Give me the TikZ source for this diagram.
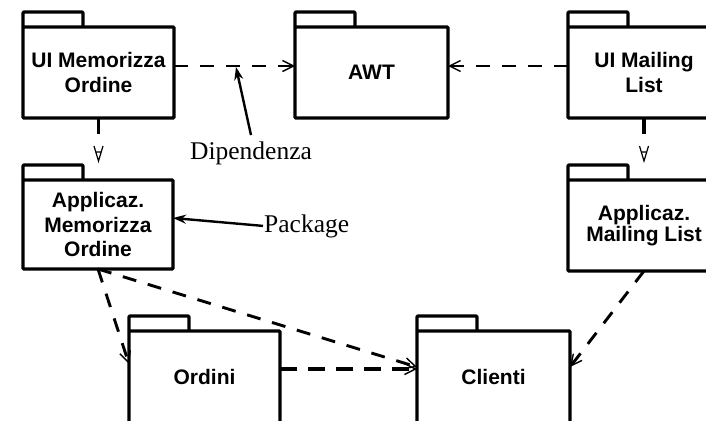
\documentclass[tikz,border=0pt]{standalone}
\usepackage{fontspec}
\setmainfont{Liberation Serif}
\setsansfont{Liberation Sans}
\usetikzlibrary{arrows.meta,calc}

\tikzset{
  pkg/.style={draw, line width=3.2pt, rounded corners=0.8pt, outer sep=0pt,
    inner sep=0pt, minimum width=#1, minimum height=91pt, align=center,
    font=\sffamily\bfseries\fontsize{21}{24.5}\selectfont},
  pkg/.default=152pt,
  tabline/.style={line width=3.2pt, rounded corners=0.8pt, line join=round},
  opentip/.style={-{Straight Barb[length=11pt,width=11pt,line width=1.4pt 0]}},
  dep/.style={line width=2.9pt, dash pattern=on 14pt off 12pt, opentip},
  depthick/.style={line width=3.4pt, dash pattern=on 17pt off 11pt, opentip},
  stub/.style={line width=3.2pt},
  thinmark/.style={line width=1.2pt, line join=miter},
  lbl/.style={font=\fontsize{25.5}{29}\selectfont, inner sep=1pt},
  pointer/.style={line width=2.4pt, -{Stealth[length=13pt,width=9pt]}},
}

% folder tab on top of a package body
\newcommand\pkgtab[1]{\draw[tabline] (#1.north west) -- ++(0,-15) -- ++(60,0) -- ++(0,15);}
% truncated dependency: short stub plus a small open head
\newcommand\brokendep[1]{%
  \draw[stub] (#1.south) -- ++(0,16);
  \draw[thinmark] ($(#1.south)+(-4.5,28)$) -- ++(4.5,15) -- ++(4.5,-15)
                  ($(#1.south)+(-2.7,34)$) -- ++(5.4,0);}

\begin{document}
\begin{tikzpicture}[x=1pt, y=-1pt]
\useasboundingbox (0,0) rectangle (706,420);
\clip (0,0) rectangle (706,420);

% packages
\node[pkg=151pt] (uimo) at (98.5,72.5) {UI Memorizza\\Ordine};
\node[pkg=153pt] (awt)  at (371.5,72.5) {AWT};
\node[pkg=152pt] (uiml) at (644,72.5) {UI Mailing\\List};
\node[pkg=150pt, minimum height=89pt] (apmo) at (98,224.5) {Applicaz.\\Memorizza\\Ordine};
\node[pkg=152pt] (apml) at (644,225.5) {Applicaz.\\[-3.5pt]Mailing List};
\node[pkg=151pt, minimum height=92pt] (ordini)  at (204.5,377) {Ordini};
\node[pkg=153pt, minimum height=92pt] (clienti) at (493.5,377) {Clienti};

\foreach \p in {uimo,awt,uiml,apmo,apml,ordini,clienti} {\pkgtab{\p}}

% dependencies
\draw[dep] (uimo.east |- 0,66) -- (awt.west |- 0,66);
\draw[dep] (uiml.west |- 0,66) -- (awt.east |- 0,66);
\brokendep{uimo}
\brokendep{uiml}
\draw[dep] (apmo.south) -- (ordini.west |- 0,364);
\draw[dep] (apmo.south) -- (clienti.west |- 0,367);
\draw[depthick] (ordini.east |- 0,369) -- (clienti.west |- 0,369);
\draw[dep] (apml.south) -- (clienti.east |- 0,367);

% annotations
\coordinate (deppt) at (236,67);
\node[lbl, anchor=base] (dip) at (251,159) {Dipendenza};
\draw[pointer] ([yshift=5pt]dip.north) -- (deppt);
\node[lbl, anchor=base west] (pkglbl) at (263,232) {Package};
\draw[pointer] (pkglbl.west) -- (apmo.east |- 0,218);
\end{tikzpicture}
\end{document}
